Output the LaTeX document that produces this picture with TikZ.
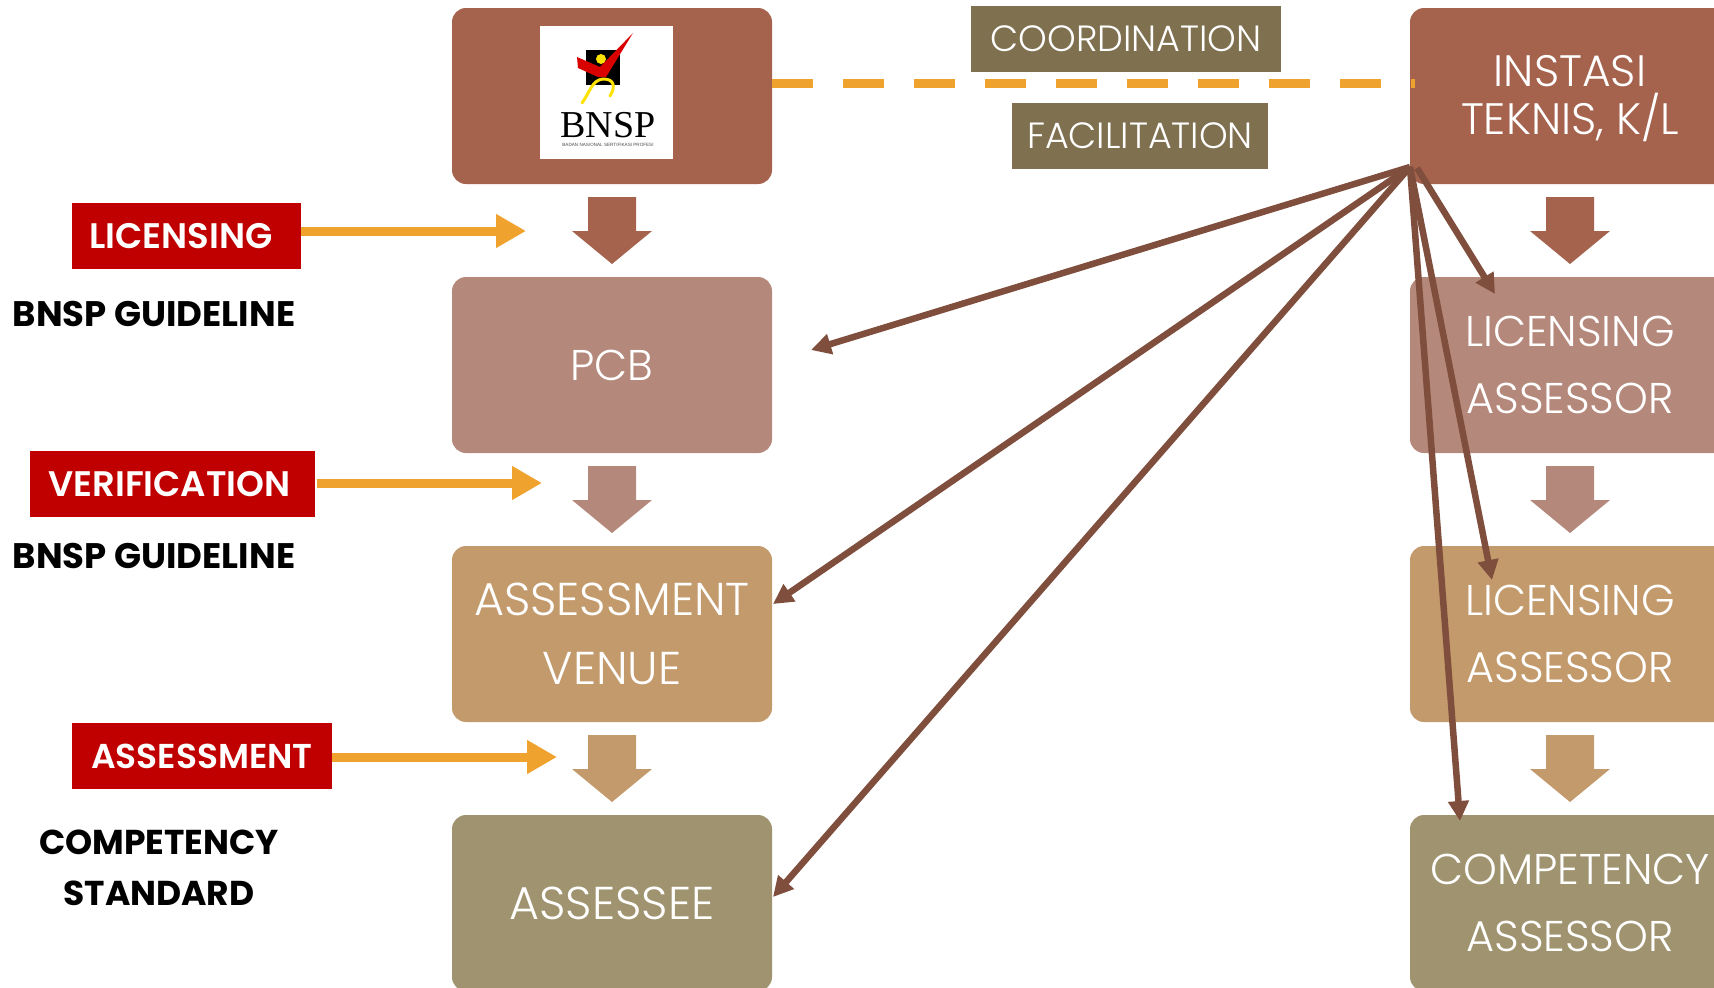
\documentclass[tikz,border=0pt]{standalone}
\usepackage{fontspec}
\setmainfont{Poppins}
\newfontfamily\thinfont{Poppins Light}
\newfontfamily\boldfont{Poppins SemiBold}
\newfontfamily\heavyfont{Poppins Bold}
\usetikzlibrary{arrows.meta}
\definecolor{boxa}{HTML}{A5634D}
\definecolor{boxb}{HTML}{B4887A}
\definecolor{boxc}{HTML}{C39A6C}
\definecolor{boxd}{HTML}{A0936F}
\definecolor{olivebox}{HTML}{7F7050}
\definecolor{redbox}{HTML}{C00000}
\definecolor{orangeline}{HTML}{F0A22E}
\definecolor{fanline}{HTML}{7F4E3C}
\tikzset{
  stagebox/.style={rounded corners=14pt,minimum width=320pt,minimum height=176pt,inner sep=0pt,text=white,align=center,font=\thinfont\fontsize{43}{67}\selectfont},
  widebox/.style={stagebox,font=\thinfont\fontsize{46}{69}\selectfont},
  notebox/.style={fill=olivebox,text=white,minimum height=66pt,inner sep=0pt,font=\thinfont\fontsize{36.5}{40}\selectfont},
  redlabel/.style={fill=redbox,text=white,minimum height=66pt,inner sep=0pt,font=\boldfont\fontsize{35.5}{40}\selectfont},
  blacklabel/.style={text=black,inner sep=0pt,align=center,font=\heavyfont\fontsize{34.5}{51}\selectfont},
  orangearrow/.style={draw=orangeline,line width=9pt,-{Triangle[length=30pt,width=32pt]}},
  fanarrow/.style={draw=fanline,line width=6.5pt,-{Triangle[length=20pt,width=20pt]}}
}
\begin{document}
\begin{tikzpicture}[x=1pt,y=-1pt]
\useasboundingbox (0,0) rectangle (1714,988);
\clip (0,0) rectangle (1714,988);

% stages, both columns
\node[stagebox,fill=boxa] (bnsp) at (612,96) {};
\node[stagebox,fill=boxb] (pcb) at (612,365) {PCB};
\node[widebox,fill=boxc] (venue) at (612,634) {ASSESSMENT\\VENUE};
\node[widebox,fill=boxd] (assessee) at (612,903) {ASSESSEE};

\node[stagebox,fill=boxa,font=\thinfont\fontsize{44}{48}\selectfont] (instasi) at (1570,96) {\rule{0pt}{35.5pt}INSTASI\\TEKNIS, K/L};
\node[stagebox,fill=boxb] (licone) at (1570,365) {LICENSING\\ASSESSOR};
\node[stagebox,fill=boxc] (lictwo) at (1570,634) {LICENSING\\ASSESSOR};
\node[stagebox,fill=boxd] (compet) at (1570,903) {COMPETENCY\\ASSESSOR};

% block arrows
\foreach \x in {612,1570}{
\foreach \y/\c in {197/boxa,466/boxb,735/boxc}
\fill[\c] (\x-24,\y) -- (\x+24,\y) -- (\x+24,\y+34) -- (\x+40,\y+34) -- (\x,\y+67) -- (\x-40,\y+34) -- (\x-24,\y+34) -- cycle;
}

% logo
\node[fill=white,minimum size=133pt,inner sep=0pt] (logo) at (606.5,92.5) {};
\fill[black] (586,50) rectangle (620,85);
\fill[yellow!85!orange] (601,59) circle (5);
\draw[yellow!85!orange,line width=3pt,line cap=round] (582,103) .. controls (590,92) and (592,80) .. (603,79) .. controls (614,79) and (616,86) .. (610,96);
\fill[red!85!black] (577,57) -- (600,67) -- (633,33) -- (606,77) -- (598,77) -- (578,68) -- cycle;
\node[inner sep=0pt,text=black] (logoname) at (608,125) {\fontspec{Liberation Serif}\fontsize{38}{38}\selectfont BNSP};
\node[inner sep=0pt,text=black!70] (logosub) at (608,145) {\fontspec{Liberation Sans}\fontsize{4.6}{5}\selectfont BADAN NASIONAL SERTIFIKASI PROFESI};

% coordination
\coordinate (dashstart) at (772,83);
\coordinate (dashend) at (1415,83);
\draw[orangeline,line width=9pt,dash pattern=on 41pt off 30pt] (dashstart) -- (dashend);
\node[notebox,minimum width=310pt] (coord) at (1126,39) {COORDINATION};
\node[notebox,minimum width=256pt] (facil) at (1140,136) {FACILITATION};

% left labels
\node[redlabel,minimum width=229pt] (licens) at (186.5,236) {LICENSING\hspace{11pt}\null};
\node[redlabel,minimum width=285pt] (verif) at (172.5,484) {VERIFICATION\hspace{6pt}\null};
\node[redlabel,minimum width=260pt,font=\boldfont\fontsize{34.5}{40}\selectfont] (assess) at (202,756) {ASSESSMENT};
\node[blacklabel,font=\heavyfont\fontsize{35.5}{51}\selectfont] (guideone) at (154,314) {BNSP GUIDELINE};
\node[blacklabel,font=\heavyfont\fontsize{35.5}{51}\selectfont] (guidetwo) at (154,556) {BNSP GUIDELINE};
\node[blacklabel] (standard) at (159,868) {COMPETENCY\\STANDARD};

\coordinate (licensend) at (526,231);
\coordinate (verifstart) at (317,483);
\coordinate (verifend) at (542,483);
\coordinate (assessend) at (557,757);
\draw[orangearrow] (licens.east |- licensend) -- (licensend);
\draw[orangearrow] (verifstart) -- (verifend);
\draw[orangearrow] (assess.east |- assessend) -- (assessend);

% fan from the right column
\coordinate (fan) at (1410,167);
\coordinate (fanb) at (1417,168);
\coordinate (tippcb) at (811,350);
\coordinate (tipvenue) at (773,604);
\coordinate (tipassessee) at (773,897);
\coordinate (tiplicone) at (1495,294);
\coordinate (tiplictwo) at (1492,580);
\coordinate (tipcompet) at (1460,821);
\foreach \tip in {tippcb,tipvenue,tipassessee,tiplictwo,tipcompet}
\draw[fanarrow] (fan) -- (\tip);
\draw[fanarrow] (fanb) -- (tiplicone);
\end{tikzpicture}
\end{document}
